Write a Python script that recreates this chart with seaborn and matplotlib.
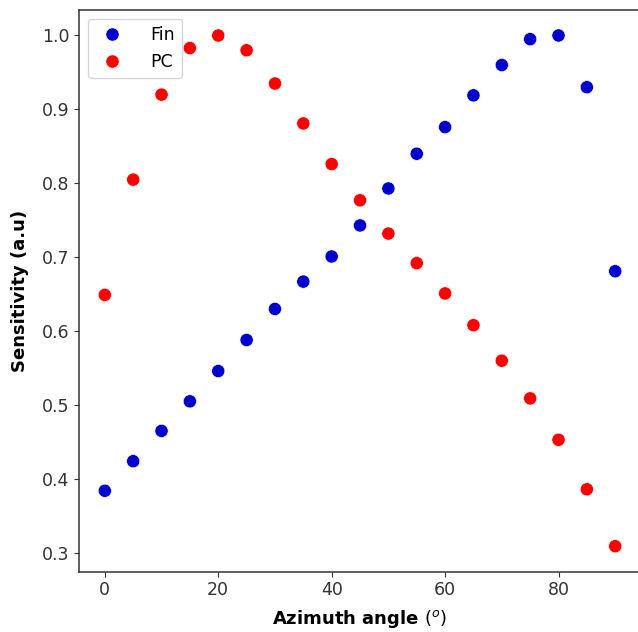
import pandas as pd
import numpy as np
import matplotlib
matplotlib.use('Agg')
import matplotlib.pyplot as plt
import seaborn as sns

angles = [0, 5, 10, 15, 20, 25, 30, 35, 40, 45, 50, 55, 60, 65, 70, 75, 80, 85, 90]
fin = [0.384, 0.424, 0.465, 0.505, 0.546, 0.588, 0.630, 0.667, 0.701, 0.743,
       0.793, 0.840, 0.876, 0.919, 0.960, 0.995, 1.000, 0.930, 0.681]
pc = [0.649, 0.805, 0.920, 0.983, 1.000, 0.980, 0.935, 0.881, 0.826, 0.777,
      0.732, 0.692, 0.651, 0.608, 0.560, 0.509, 0.453, 0.386, 0.309]
series = ['Fin', 'PC']
colors = {'Fin': '#0000cc', 'PC': '#ff0000'}

df = pd.DataFrame({
    'angle': angles * 2,
    'sens': fin + pc,
    'curve': ['Fin'] * len(fin) + ['PC'] * len(pc),
})

fig = plt.figure(figsize=(6.38, 6.32), dpi=100)
ax = fig.add_axes([0.1243, 0.0954, 0.880, 0.8888])

sns.scatterplot(data=df, x='angle', y='sens', hue='curve', hue_order=series,
                palette=colors, s=90, edgecolor='white', linewidth=0.4, ax=ax)

ax.set_xlim(-4.5, 94.5)
ax.set_ylim(0.2745, 1.0345)
ax.set_xticks([0, 20, 40, 60, 80])
ax.set_yticks([0.3, 0.4, 0.5, 0.6, 0.7, 0.8, 0.9, 1.0])
ax.tick_params(labelsize=12.5, colors='#333333')
for sp in ax.spines.values():
    sp.set_color('#333333')
    sp.set_linewidth(1.1)

ax.set_xlabel(r'Azimuth angle $(^o)$', fontsize=13, fontweight='bold', labelpad=6)
ax.set_ylabel('Sensitivity (a.u)', fontsize=13, fontweight='bold', labelpad=9)

ax.legend(loc='upper left', fontsize=12.5, handletextpad=1.2, borderaxespad=0.5,
          labelspacing=0.55)

plt.savefig('out.png', dpi=100)
plt.close()
